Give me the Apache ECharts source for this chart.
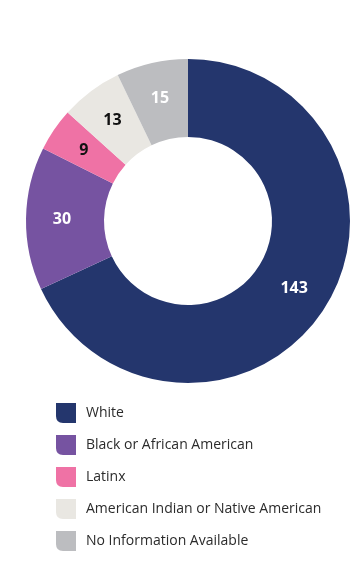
<!DOCTYPE html>
<html><head><meta charset="utf-8">
<script src="https://cdn.jsdelivr.net/npm/echarts@6/dist/echarts.min.js"></script>
<style>html,body{margin:0;padding:0;background:#fff}#c{width:358px;height:562px}</style>
</head><body><div id="c"></div>
<script>
var categories = ['White','Black or African American','Latinx','American Indian or Native American','No Information Available'];
var values = [143, 30, 9, 13, 15];
var colors = ['#24366d','#7653a1','#ef72a5','#e9e7e2','#bcbdc0'];
var labelColors = ['#ffffff','#ffffff','#111111','#111111','#ffffff'];

var icon = 'path://M0,0 L20,0 L20,20 L7,20 Q0,20 0,13 Z';
var chart = echarts.init(document.getElementById('c'), null, {renderer:'canvas'});
chart.setOption({
  animation:false,
  legend:{
    orient:'vertical', left:56, top:403, padding:0, itemWidth:20, itemHeight:20, itemGap:12,
    icon: icon,
    textStyle:{color:'#2b2b2b', fontSize:14, fontFamily:'"Open Sans", Lato, sans-serif', padding:[0,0,0,5]},
    data: categories
  },
  series:[{
    type:'pie', center:[188,221], radius:[84,162], startAngle:90, clockwise:true,
    avoidLabelOverlap:false,
    label:{show:true, position:'inside', formatter:'{c}', fontSize:16, fontWeight:'bold', fontFamily:'"Open Sans", Lato, sans-serif'},
    labelLine:{show:false},
    itemStyle:{borderWidth:0},
    data: categories.map(function(n,i){return {name:n, value:values[i], itemStyle:{color:colors[i]}, label:{color:labelColors[i]}};})
  }]
});
</script></body></html>
